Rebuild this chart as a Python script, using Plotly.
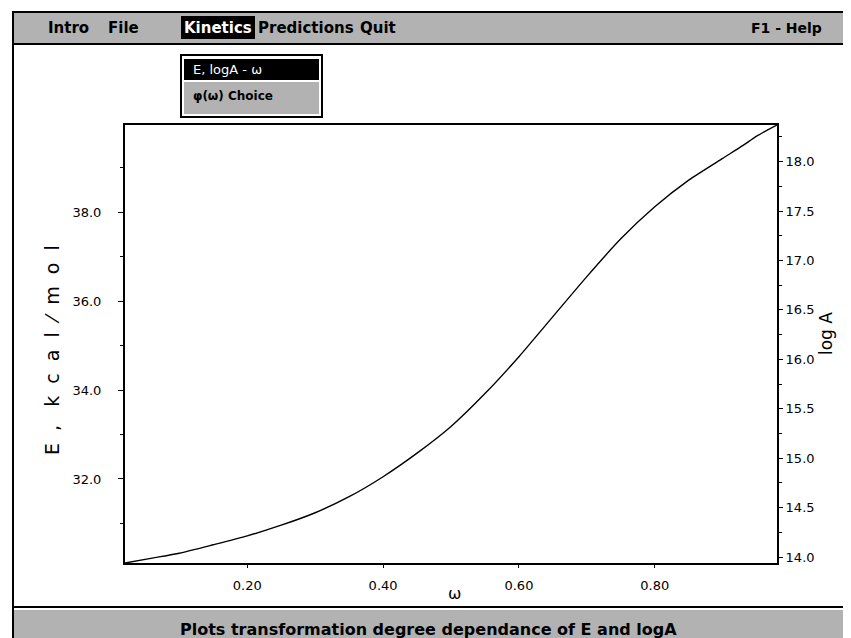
import plotly.graph_objects as go

# ---- data ----
omega = [0.02, 0.06, 0.10, 0.15, 0.20, 0.25, 0.30, 0.35, 0.40, 0.45, 0.50,
         0.55, 0.60, 0.65, 0.70, 0.75, 0.80, 0.85, 0.90, 0.93, 0.95, 0.98]
E_kcal = [30.11, 30.22, 30.33, 30.52, 30.72, 30.96, 31.24, 31.60, 32.05, 32.58, 33.18,
          33.92, 34.75, 35.65, 36.55, 37.40, 38.12, 38.72, 39.21, 39.50, 39.71, 39.96]
x_ticks = [0.20, 0.40, 0.60, 0.80]
x_tick_text = ["0.20", "0.40", "0.60", "0.80"]
e_ticks = [32.0, 34.0, 36.0, 38.0]
e_tick_text = ["32.0", "34.0", "36.0", "38.0"]
loga_ticks = [14.0, 14.5, 15.0, 15.5, 16.0, 16.5, 17.0, 17.5, 18.0]
loga_tick_text = ["14.0", "14.5", "15.0", "15.5", "16.0", "16.5", "17.0", "17.5", "18.0"]
menu_items = ["Intro", "File", "Kinetics", "Predictions", "Quit"]
dropdown_items = ["E, logA - ω", "φ(ω) Choice"]
status_text = "Plots transformation degree dependance of E and logA"

# ---- geometry ----
WIDTH, HEIGHT = 851, 638
L, R, T, B = 117, 769, 117, 555
PW, PH = R - L, B - T


def px(x):
    return (x - L) / PW


def py(y):
    return (B - y) / PH


GRAY = "#b2b2b2"
FONT = "DejaVu Sans"

fig = go.Figure()
fig.add_trace(go.Scatter(x=omega, y=E_kcal, mode="lines",
                         line=dict(color="black", width=1.4, shape="spline", smoothing=0.6),
                         showlegend=False, hoverinfo="skip"))
# invisible trace to activate right axis
fig.add_trace(go.Scatter(x=[omega[0]], y=[14.0], yaxis="y2", mode="markers",
                         marker=dict(opacity=0), showlegend=False, hoverinfo="skip"))

shapes = []
annotations = []

# outer left border
shapes.append(dict(type="line", xref="paper", yref="paper",
                   x0=px(5), x1=px(5), y0=py(3), y1=py(638), line=dict(color="black", width=2)))
# menu bar
shapes.append(dict(type="rect", xref="paper", yref="paper",
                   x0=px(5), x1=px(852), y0=py(4), y1=py(36),
                   fillcolor=GRAY, line=dict(color="black", width=2), layer="below"))
# Kinetics highlight
shapes.append(dict(type="rect", xref="paper", yref="paper",
                   x0=px(173), x1=px(247), y0=py(8), y1=py(31),
                   fillcolor="black", line=dict(width=0)))
# dropdown
shapes.append(dict(type="rect", xref="paper", yref="paper",
                   x0=px(173), x1=px(314), y0=py(47), y1=py(109),
                   fillcolor="white", line=dict(color="black", width=2)))
shapes.append(dict(type="rect", xref="paper", yref="paper",
                   x0=px(176), x1=px(311), y0=py(51), y1=py(72),
                   fillcolor="black", line=dict(width=0)))
shapes.append(dict(type="rect", xref="paper", yref="paper",
                   x0=px(176), x1=px(311), y0=py(74), y1=py(106),
                   fillcolor=GRAY, line=dict(width=0)))
# status bar
shapes.append(dict(type="line", xref="paper", yref="paper",
                   x0=px(5), x1=px(852), y0=py(599), y1=py(599), line=dict(color="black", width=2)))
shapes.append(dict(type="rect", xref="paper", yref="paper",
                   x0=px(5), x1=px(852), y0=py(602), y1=py(640),
                   fillcolor=GRAY, line=dict(width=0), layer="below"))

menu_pos = {"Intro": 60, "File": 115, "Kinetics": 210, "Predictions": 298, "Quit": 370}
for name in menu_items:
    annotations.append(dict(text="<b>" + name + "</b>", xref="paper", yref="paper",
                            x=px(menu_pos[name]), y=py(20), showarrow=False,
                            xanchor="center", yanchor="middle",
                            font=dict(family=FONT, size=15,
                                      color="white" if name == "Kinetics" else "black")))
annotations.append(dict(text="<b>F1 - Help</b>", xref="paper", yref="paper",
                        x=px(778), y=py(20), showarrow=False, xanchor="center", yanchor="middle",
                        font=dict(family=FONT, size=14, color="black")))
annotations.append(dict(text=dropdown_items[0], xref="paper", yref="paper",
                        x=px(183), y=py(61), showarrow=False, xanchor="left", yanchor="middle",
                        font=dict(family=FONT, size=13, color="white")))
annotations.append(dict(text="<b>" + dropdown_items[1] + "</b>", xref="paper", yref="paper",
                        x=px(183), y=py(88), showarrow=False, xanchor="left", yanchor="middle",
                        font=dict(family=FONT, size=12, color="black")))
annotations.append(dict(text="<b>" + status_text + "</b>", xref="paper", yref="paper",
                        x=px(420), y=py(621), showarrow=False, xanchor="center", yanchor="middle",
                        font=dict(family=FONT, size=16, color="black")))
# axis titles
annotations.append(dict(text="E  ,   k  c  a  l  ⁄  m  o  l", xref="paper", yref="paper",
                        x=px(44), y=py(342), showarrow=False, textangle=-90,
                        xanchor="center", yanchor="middle",
                        font=dict(family=FONT, size=19, color="black")))
annotations.append(dict(text="log A", xref="paper", yref="paper",
                        x=px(818), y=py(325), showarrow=False, textangle=-90,
                        xanchor="center", yanchor="middle",
                        font=dict(family=FONT, size=17, color="black")))
annotations.append(dict(text="ω", xref="paper", yref="paper",
                        x=px(446), y=py(585), showarrow=False,
                        xanchor="center", yanchor="middle",
                        font=dict(family=FONT, size=16, color="black")))

tickfont = dict(family=FONT, size=13, color="black")
fig.update_layout(
    width=WIDTH, height=HEIGHT,
    margin=dict(l=L, r=WIDTH - R, t=T, b=HEIGHT - B),
    paper_bgcolor="white", plot_bgcolor="white",
    shapes=shapes, annotations=annotations,
    xaxis=dict(range=[0.02, 0.98], tickvals=x_ticks, ticktext=x_tick_text,
               ticks="outside", ticklen=3, tickcolor="black", tickfont=tickfont,
               ticklabelstandoff=6,
               showgrid=False, zeroline=False, showline=True, linecolor="black",
               linewidth=2, mirror=True),
    yaxis=dict(range=[30.11, 39.96], tickvals=e_ticks, ticktext=e_tick_text,
               ticks="outside", ticklen=5, tickcolor="black", tickfont=tickfont,
               ticklabelstandoff=14,
               minor=dict(dtick=1.0, tick0=0, ticks="outside", ticklen=3, tickcolor="black"),
               showgrid=False, zeroline=False, showline=True, linecolor="black",
               linewidth=2, mirror=True),
    yaxis2=dict(range=[13.94, 18.37], overlaying="y", side="right",
                tickvals=loga_ticks, ticktext=loga_tick_text,
                ticks="outside", ticklen=4, tickcolor="black", tickfont=tickfont,
                minor=dict(dtick=0.25, tick0=0, ticks="outside", ticklen=3, tickcolor="black"),
                showgrid=False, zeroline=False, showline=True, linecolor="black", linewidth=2),
)

fig.write_html("out.html")
